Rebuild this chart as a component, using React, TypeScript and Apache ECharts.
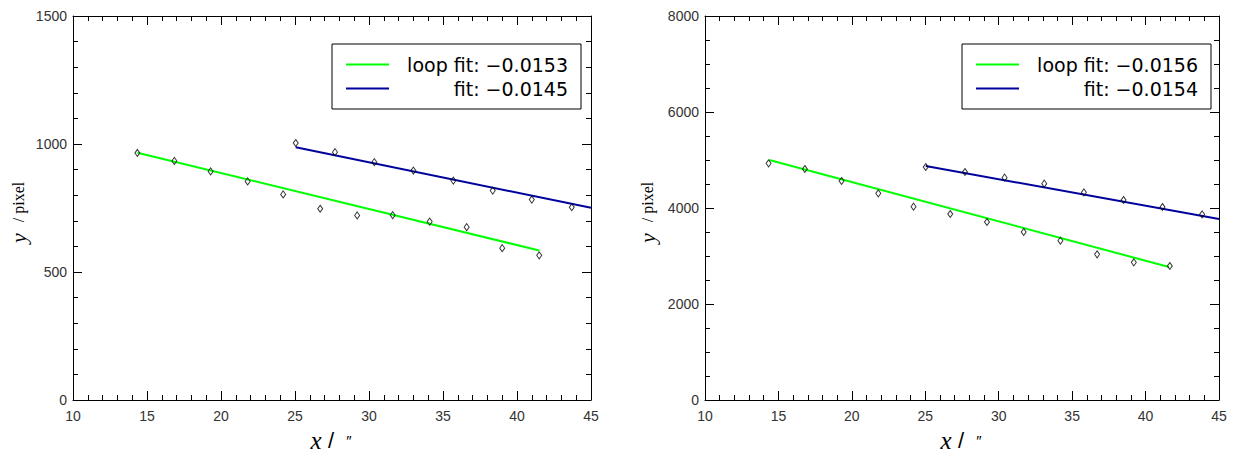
import React, { useEffect, useRef } from "react";
import * as echarts from "echarts";

// ---- data ----
const xLoopLeft = [14.35, 16.85, 19.3, 21.8, 24.2, 26.7, 29.2, 31.6, 34.1, 36.6, 39.0, 41.5];
const yLoopLeft = [965, 934, 893, 854, 803, 747, 721, 722, 697, 675, 593, 565];
const xFitLeft = [25.05, 27.7, 30.36, 33.0, 35.7, 38.36, 41.0, 43.7];
const yFitLeft = [1004, 968, 929, 896, 857, 818, 783, 753];
const loopLineLeftX = [14.35, 41.5];
const loopLineLeftY = [966, 584];
const fitLineLeftX = [25.05, 45];
const fitLineLeftY = [987, 751];

const xLoopRight = [14.33, 16.8, 19.3, 21.8, 24.2, 26.7, 29.2, 31.7, 34.2, 36.7, 39.2, 41.65];
const yLoopRight = [4931, 4812, 4562, 4306, 4028, 3875, 3708, 3500, 3319, 3035, 2868, 2792];
const xFitRight = [25.03, 27.7, 30.4, 33.1, 35.8, 38.5, 41.15, 43.85];
const yFitRight = [4854, 4750, 4632, 4507, 4326, 4167, 4021, 3868];
const loopLineRightX = [14.38, 41.6];
const loopLineRightY = [5000, 2770];
const fitLineRightX = [25.03, 45];
const fitLineRightY = [4875, 3771];

const legendLeft = ["loop fit: \u22120.0153", "fit: \u22120.0145"];
const legendRight = ["loop fit: \u22120.0156", "fit: \u22120.0154"];

const xRange = [10, 45, 5];
const yRangeLeft = [0, 1500, 500, 5];
const yRangeRight = [0, 8000, 2000, 4];

const GREEN = "#00ff00";
const BLUE = "#00009c";

const zip = (xs: number[], ys: number[]) => xs.map((x, i) => [x, ys[i]]);

export default function App() {
  const ref = useRef<HTMLDivElement>(null);
  useEffect(() => {
    if (!ref.current) return;
    const chart = echarts.init(ref.current, undefined, { renderer: "svg" });
    const grids = [
      { left: 73, top: 16, width: 518, height: 384 },
      { left: 705, top: 16, width: 514, height: 384 },
    ];
    const tickFont = {
      fontFamily: "Liberation Sans, Arial, sans-serif",
      fontSize: 14,
      color: "#333",
      formatter: (v: number) => String(v),
    };
    const axisLine = { show: true, lineStyle: { color: "#000", width: 1 } };
    const xAxes: any[] = [];
    const yAxes: any[] = [];
    [0, 1].forEach((g) => {
      ["bottom", "top"].forEach((pos) => {
        xAxes.push({
          type: "value",
          gridIndex: g,
          position: pos,
          min: xRange[0],
          max: xRange[1],
          interval: xRange[2],
          axisLine: { ...axisLine, onZero: false },
          axisTick: { show: true, inside: true, length: 9, lineStyle: { color: "#000" } },
          minorTick: { show: true, splitNumber: 5, length: 5, lineStyle: { color: "#000" } },
          axisLabel: { show: pos === "bottom", margin: 9, ...tickFont },
          splitLine: { show: false },
        });
      });
      const yr = g === 0 ? yRangeLeft : yRangeRight;
      ["left", "right"].forEach((pos) => {
        yAxes.push({
          type: "value",
          gridIndex: g,
          position: pos,
          min: yr[0],
          max: yr[1],
          interval: yr[2],
          axisLine: { ...axisLine, onZero: false },
          axisTick: { show: true, inside: true, length: 9, lineStyle: { color: "#000" } },
          minorTick: { show: true, splitNumber: yr[3], length: 5, lineStyle: { color: "#000" } },
          axisLabel: { show: pos === "left", margin: 6, ...tickFont },
          splitLine: { show: false },
        });
      });
    });

    const scatter = (xs: number[], ys: number[], g: number) => ({
      type: "scatter",
      xAxisIndex: g * 2,
      yAxisIndex: g * 2,
      data: zip(xs, ys),
      symbol: "diamond",
      symbolSize: [5, 7],
      itemStyle: { color: "rgba(0,0,0,0)", borderColor: "#000", borderWidth: 1 },
      z: 5,
    });
    const line = (name: string, xs: number[], ys: number[], g: number, color: string) => ({
      type: "line",
      name,
      xAxisIndex: g * 2,
      yAxisIndex: g * 2,
      data: zip(xs, ys),
      showSymbol: false,
      symbol: "none",
      clip: true,
      lineStyle: { color, width: 2 },
      itemStyle: { color },
      z: 3,
    });

    const legendCommon = {
      orient: "vertical",
      icon: "rect",
      itemWidth: 43,
      itemHeight: 2,
      itemGap: 5,
      borderColor: "#000",
      borderWidth: 1,
      padding: [11, 13, 11, 14],
      backgroundColor: "#fff",
      selectedMode: false,
      formatter: (n: string) => `{r|${n}}`,
      textStyle: {
        rich: {
          r: {
            width: 174,
            align: "right",
            fontFamily: "DejaVu Sans, sans-serif",
            fontSize: 19,
            lineHeight: 20,
            color: "#000",
          },
        },
      },
    };

    const txt = (x: number, y: number, text: string, extra: any, rot = 0) => ({
      type: "text",
      x,
      y,
      rotation: rot,
      style: {
        text,
        align: "center",
        verticalAlign: "middle",
        fill: "#000",
        ...extra,
      },
    });
    const serifItalic = { fontFamily: "Liberation Serif, serif", fontStyle: "italic" };
    const xTitle = (cx: number) => [
      txt(cx - 16, 440, "x", { ...serifItalic, fontSize: 25 }),
      txt(cx - 1, 440, "/", { fontFamily: "Liberation Sans, sans-serif", fontSize: 22 }),
      txt(cx + 17, 440, "\u2033", { fontFamily: "Liberation Sans, sans-serif", fontSize: 15 }),
    ];
    const yTitle = (cx: number) => [
      txt(cx, 238, "y", { ...serifItalic, fontSize: 22 }, Math.PI / 2),
      txt(cx, 202, "/ pixel", { fontFamily: "Liberation Serif, serif", fontSize: 16 }, Math.PI / 2),
    ];

    chart.setOption({
      animation: false,
      backgroundColor: "#fff",
      grid: grids,
      xAxis: xAxes,
      yAxis: yAxes,
      legend: [
        { ...legendCommon, left: 332, top: 44, data: legendLeft },
        { ...legendCommon, left: 962, top: 44, data: legendRight },
      ],
      graphic: [...xTitle(332), ...xTitle(962), ...yTitle(18), ...yTitle(647)],
      series: [
        line(legendLeft[0], loopLineLeftX, loopLineLeftY, 0, GREEN),
        line(legendLeft[1], fitLineLeftX, fitLineLeftY, 0, BLUE),
        scatter(xLoopLeft, yLoopLeft, 0),
        scatter(xFitLeft, yFitLeft, 0),
        line(legendRight[0], loopLineRightX, loopLineRightY, 1, GREEN),
        line(legendRight[1], fitLineRightX, fitLineRightY, 1, BLUE),
        scatter(xLoopRight, yLoopRight, 1),
        scatter(xFitRight, yFitRight, 1),
      ],
    });
    return () => chart.dispose();
  }, []);
  return (
    <div
      ref={ref}
      style={{ position: "absolute", left: 0, top: 0, width: 1236, height: 454 }}
    />
  );
}
